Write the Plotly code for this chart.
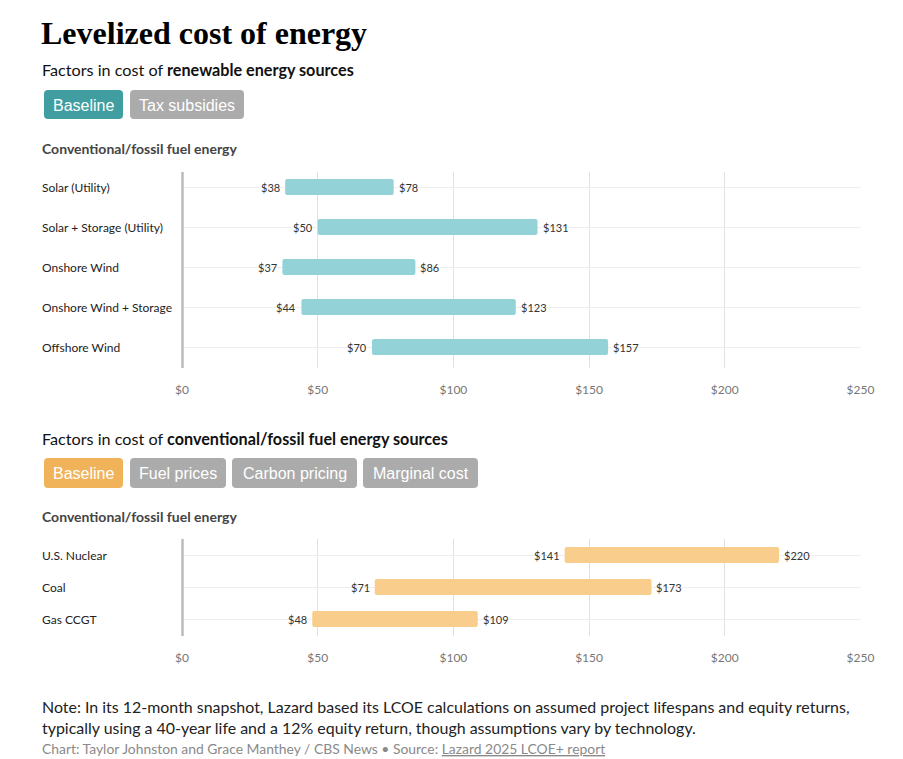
import plotly.graph_objects as go

# page body has an 8px margin at top-left
OFF = 8
W, H = 903 - OFF, 759 - OFF

# ---- data ----
renew_cats = ["Solar (Utility)", "Solar + Storage (Utility)", "Onshore Wind",
              "Onshore Wind + Storage", "Offshore Wind"]
renew_low = [38, 50, 37, 44, 70]
renew_high = [78, 131, 86, 123, 157]

fossil_cats = ["U.S. Nuclear", "Coal", "Gas CCGT"]
fossil_low = [141, 71, 48]
fossil_high = [220, 173, 109]

x_ticks = [0, 50, 100, 150, 200, 250]
x_tick_labels = ["$0", "$50", "$100", "$150", "$200", "$250"]

renew_buttons = ["Baseline", "Tax subsidies"]
fossil_buttons = ["Baseline", "Fuel prices", "Carbon pricing", "Marginal cost"]

TEAL_BAR = "#93d3d7"
TEAL_BTN = "#419ea0"
ORANGE_BAR = "#f9ce8d"
ORANGE_BTN = "#f0b35a"
GRAY_BTN = "#ababab"

FONT = "Lato"


def px(x):
    return (x - OFF) / W


def py(y):
    return 1 - (y - OFF) / H


fig = go.Figure()

top_area = (172, 368)
bot_area = (539, 636)
x_left, x_right = 182, 861

fig.add_trace(go.Bar(
    y=renew_cats, x=[h - l for l, h in zip(renew_low, renew_high)], base=renew_low,
    orientation="h", marker=dict(color=TEAL_BAR, line=dict(width=0)), width=0.4,
    xaxis="x", yaxis="y", hoverinfo="skip", showlegend=False))
fig.add_trace(go.Bar(
    y=fossil_cats, x=[h - l for l, h in zip(fossil_low, fossil_high)], base=fossil_low,
    orientation="h", marker=dict(color=ORANGE_BAR, line=dict(width=0)), width=0.5,
    xaxis="x2", yaxis="y2", hoverinfo="skip", showlegend=False))

xaxis_common = dict(
    range=[0, 250.2], tickvals=x_ticks, ticktext=x_tick_labels,
    showgrid=True, gridcolor="#e2e2e2", gridwidth=1, zeroline=False,
    showline=False, ticks="", fixedrange=True, automargin=False,
    tickfont=dict(family=FONT, size=12, color="#777"),
    ticklabelstandoff=13,
    domain=[px(x_left), px(x_right)])

yaxis_common = dict(
    showgrid=True, gridcolor="#eeeeee", gridwidth=1, zeroline=False,
    showticklabels=False, ticks="", showline=False, fixedrange=True,
    automargin=False, type="category")

fig.update_layout(
    width=W, height=H, autosize=False,
    margin=dict(l=0, r=0, t=0, b=0, pad=0, autoexpand=False),
    paper_bgcolor="white", plot_bgcolor="white",
    barcornerradius=2,
    xaxis=dict(**xaxis_common, anchor="y"),
    yaxis=dict(**yaxis_common, anchor="x",
               domain=[py(top_area[1]), py(top_area[0])],
               range=[4.525, -0.375]),
    xaxis2=dict(**xaxis_common, anchor="y2"),
    yaxis2=dict(**yaxis_common, anchor="x2",
                domain=[py(bot_area[1]), py(bot_area[0])],
                range=[2.53, -0.5]),
    showlegend=False,
)

annotations = []
shapes = []


def text(x, y, s, size, color="#111", family=FONT, anchor="left"):
    annotations.append(dict(
        x=px(x), y=py(y), xref="paper", yref="paper", text=s, showarrow=False,
        xanchor=anchor, yanchor="middle", borderpad=0, borderwidth=0,
        font=dict(family=family, size=size, color=color)))


def value_labels(cats, lows, highs, yref):
    xref = yref.replace("y", "x")
    for c, lo, hi in zip(cats, lows, highs):
        annotations.append(dict(x=lo, y=c, xref=xref, yref=yref,
                                text=f"${lo}", showarrow=False, xanchor="right",
                                yanchor="middle", xshift=-3,
                                font=dict(family=FONT, size=11, color="#333")))
        annotations.append(dict(x=hi, y=c, xref=xref, yref=yref,
                                text=f"${hi}", showarrow=False, xanchor="left",
                                yanchor="middle", xshift=3,
                                font=dict(family=FONT, size=11, color="#333")))


value_labels(renew_cats, renew_low, renew_high, "y")
value_labels(fossil_cats, fossil_low, fossil_high, "y2")

text(41, 33, "<b>Levelized cost of energy</b>", 32, "#000", family="Liberation Serif")
text(42, 70, "Factors in cost of <b>renewable energy sources</b>", 16.2, "#111")
text(42, 438, "Factors in cost of <b>conventional/fossil fuel energy sources</b>", 16.2, "#111")
text(42, 148, "<b>Conventional/fossil fuel energy</b>", 14, "#444")
text(42, 516, "<b>Conventional/fossil fuel energy</b>", 14, "#444")


def rounded_rect(x0, y0, x1, y1, r, color):
    X0, X1 = px(x0), px(x1)
    Y0, Y1 = py(y0), py(y1)
    rx, ry = r / W, r / H
    path = (f"M{X0+rx},{Y0} L{X1-rx},{Y0} Q{X1},{Y0} {X1},{Y0-ry} "
            f"L{X1},{Y1+ry} Q{X1},{Y1} {X1-rx},{Y1} "
            f"L{X0+rx},{Y1} Q{X0},{Y1} {X0},{Y1+ry} "
            f"L{X0},{Y0-ry} Q{X0},{Y0} {X0+rx},{Y0} Z")
    shapes.append(dict(type="path", path=path, xref="paper", yref="paper",
                       fillcolor=color, line=dict(width=0), layer="above"))


def buttons(labels, boxes, y0, y1, active_color):
    for i, (lab, (bx0, bx1)) in enumerate(zip(labels, boxes)):
        col = active_color if i == 0 else GRAY_BTN
        rounded_rect(bx0, y0, bx1, y1, 4, col)
        text((bx0 + bx1) / 2, (y0 + y1) / 2 + 0.5, lab, 16, "white",
             family="Liberation Sans", anchor="center")


buttons(renew_buttons, [(44, 123), (130, 244)], 90, 119, TEAL_BTN)
buttons(fossil_buttons, [(44, 123), (130, 226), (232, 357), (363, 478)], 458, 488, ORANGE_BTN)

for c in renew_cats:
    annotations.append(dict(x=px(42), y=c, xref="paper", yref="y", text=c,
                            showarrow=False, xanchor="left", yanchor="middle",
                            borderpad=0, borderwidth=0,
                            font=dict(family=FONT, size=12, color="#222")))
for c in fossil_cats:
    annotations.append(dict(x=px(42), y=c, xref="paper", yref="y2", text=c,
                            showarrow=False, xanchor="left", yanchor="middle",
                            borderpad=0, borderwidth=0,
                            font=dict(family=FONT, size=12, color="#222")))

for (a, b) in (top_area, bot_area):
    shapes.append(dict(type="line", xref="paper", yref="paper",
                       x0=px(182.5), x1=px(182.5), y0=py(a), y1=py(b),
                       line=dict(color="#bbbbbb", width=2.5), layer="above"))

text(42, 706, "Note: In its 12-month snapshot, Lazard based its LCOE calculations on assumed project lifespans and equity returns,",
     15.95, "#222")
text(42, 727, "typically using a 40-year life and a 12% equity return, though assumptions vary by technology.",
     15.95, "#222")
text(42, 748, "Chart: Taylor Johnston and Grace Manthey / CBS News • Source: "
     "<span style='text-decoration:underline'>Lazard 2025 LCOE+ report</span>",
     13.9, "#8a8a8a")

fig.update_layout(annotations=annotations, shapes=shapes)

fig.write_html("out.html")
